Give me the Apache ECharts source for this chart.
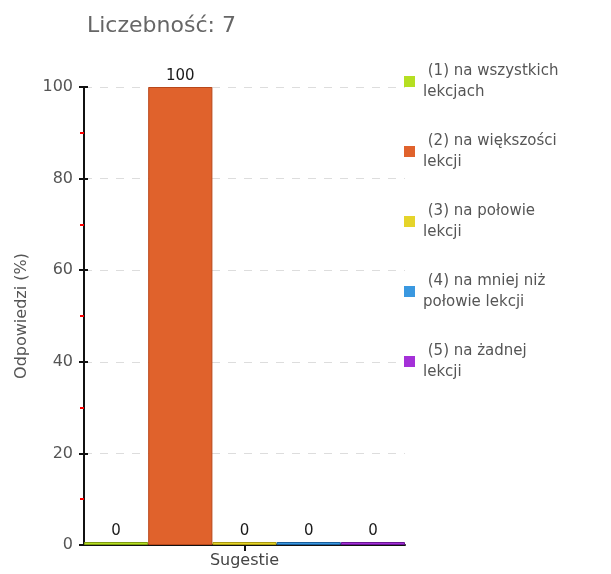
<!DOCTYPE html>
<html>
<head>
<meta charset="utf-8">
<script src="https://cdn.jsdelivr.net/npm/echarts@6/dist/echarts.min.js"></script>
<style>html,body{margin:0;padding:0;background:#fff;}#c{width:611px;height:574px;}</style>
</head>
<body>
<div id="c"></div>
<script>
var titleText = 'Liczebność: 7';
var categories = ['Sugestie'];
var seriesNames = ['(1) na wszystkich lekcjach', '(2) na większości lekcji', '(3) na połowie lekcji', '(4) na mniej niż połowie lekcji', '(5) na żadnej lekcji'];
var legendLines = [' (1) na wszystkich\nlekcjach', ' (2) na większości\nlekcji', ' (3) na połowie\nlekcji', ' (4) na mniej niż\npołowie lekcji', ' (5) na żadnej\nlekcji'];
var values = [0, 100, 0, 0, 0];
var colors = ['#b5df22', '#e0622c', '#e5d42a', '#3a98e0', '#a430d8'];
var borders = ['#7f9c10', '#b8471a', '#a99a10', '#1a5e9c', '#6a1594'];
var yTicks = {min: 0, max: 100, interval: 20};
var yName = 'Odpowiedzi (%)';

var FONT = 'DejaVu Sans';
var series = seriesNames.map(function (n, i) {
  return {
    name: n,
    type: 'bar',
    data: [values[i]],
    barGap: '0%',
    barCategoryGap: '0%',
    barMinHeight: 3,
    itemStyle: {color: colors[i], borderColor: borders[i], borderWidth: 1},
    label: {show: true, position: 'top', distance: 3, color: '#1a1a1a', fontFamily: FONT, fontSize: 15},
    emphasis: {disabled: true}
  };
});

var chart = echarts.init(document.getElementById('c'), null, {renderer: 'canvas'});
chart.setOption({
  animation: false,
  color: colors,
  title: {text: titleText, left: 87, top: 15, padding: 0, textStyle: {fontFamily: FONT, fontSize: 22, fontWeight: 'normal', color: '#666'}},
  grid: {left: 84, top: 87, right: 206, bottom: 29, containLabel: false},
  legend: {
    orient: 'vertical', left: 404, top: 50, itemWidth: 11, itemHeight: 11, itemGap: 7,
    icon: 'rect', padding: 0,
    itemStyle: {borderWidth: 0},
    data: seriesNames,
    formatter: function (n) { return legendLines[seriesNames.indexOf(n)]; },
    textStyle: {fontFamily: FONT, fontSize: 15, color: '#555', lineHeight: 21, padding: [21, 0, 0, 3]}
  },
  xAxis: {
    type: 'category', data: categories,
    axisLine: {lineStyle: {color: '#111', width: 2}},
    axisTick: {show: true, alignWithLabel: true, length: 6, lineStyle: {color: '#111', width: 2}},
    axisLabel: {fontFamily: FONT, fontSize: 16, color: '#444', margin: 8}
  },
  yAxis: [{
    type: 'value', min: yTicks.min, max: yTicks.max, interval: yTicks.interval,
    name: yName, nameLocation: 'middle', nameGap: 54, nameRotate: 90,
    nameTextStyle: {fontFamily: FONT, fontSize: 16, color: '#555'},
    axisLine: {show: true, lineStyle: {color: '#111', width: 2}},
    axisTick: {show: true, length: 5, lineStyle: {color: '#111', width: 2}},
    minorTick: {show: true, splitNumber: 2, length: 4, lineStyle: {color: '#ff0000', width: 2}},
    axisLabel: {fontFamily: FONT, fontSize: 16, color: '#555', margin: 11},
    splitLine: {show: true, lineStyle: {color: '#ddd', type: [8, 8], width: 1}}
  }, {
    type: 'value', min: yTicks.min, max: yTicks.max, interval: yTicks.interval, position: 'left',
    axisLine: {show: false},
    axisTick: {show: true, inside: true, length: 4, lineStyle: {color: '#111', width: 2}},
    axisLabel: {show: false},
    splitLine: {show: false}
  }],
  series: series
});
</script>
</body>
</html>
